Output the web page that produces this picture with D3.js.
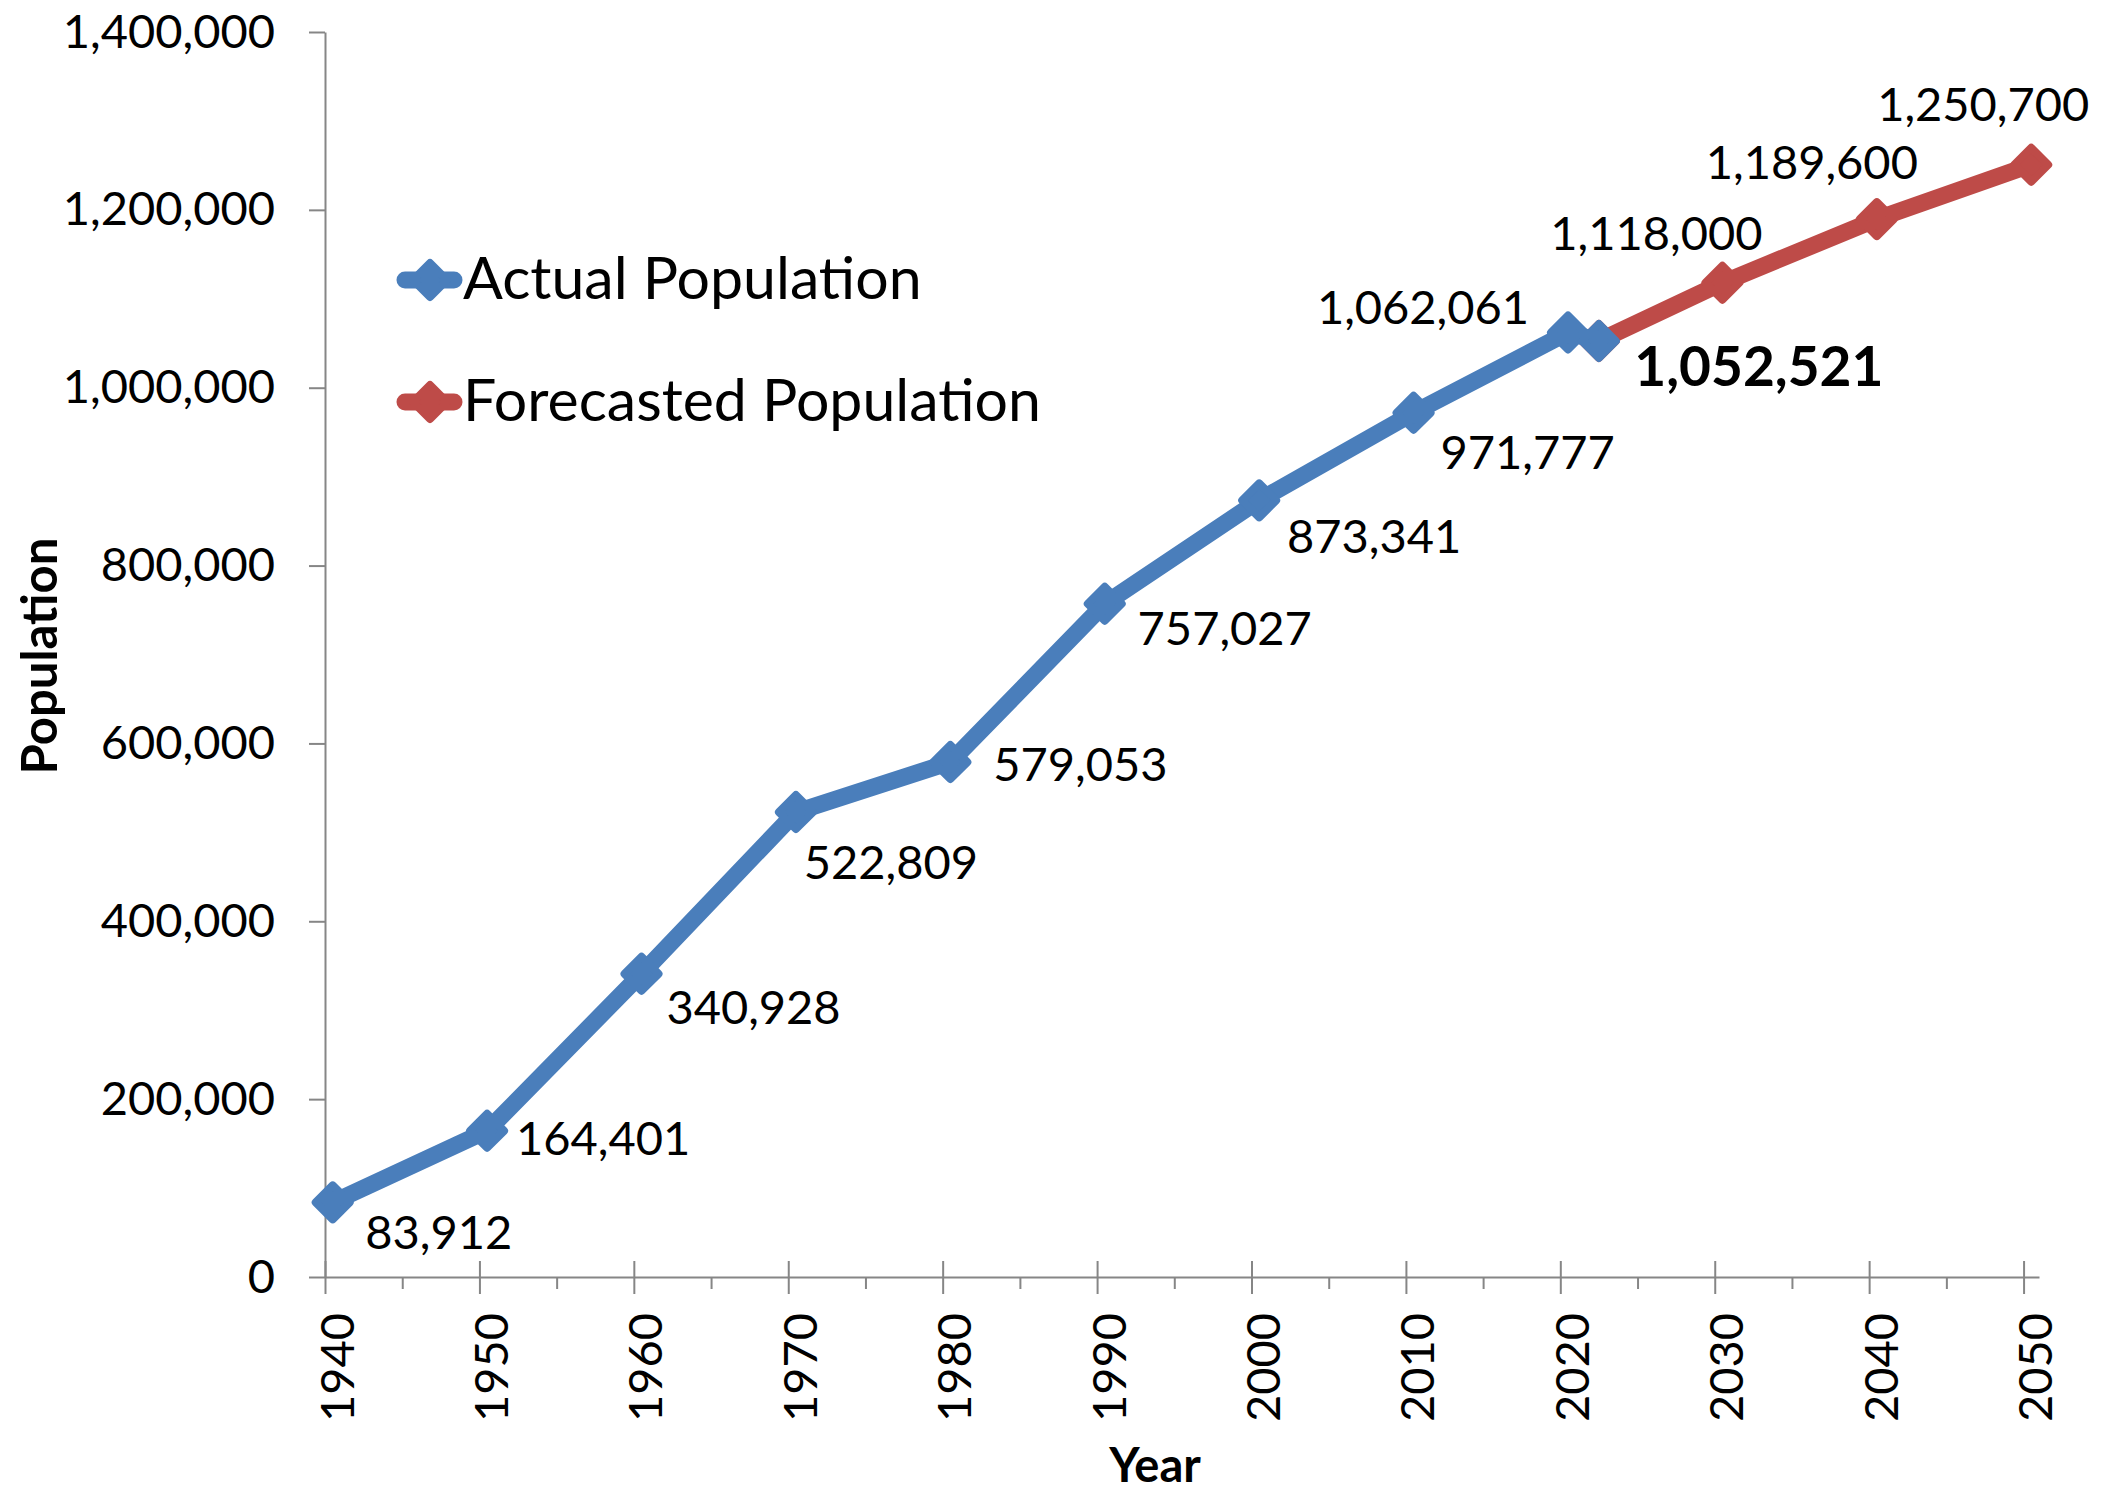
<!DOCTYPE html>
<html>
<head>
<meta charset="utf-8">
<script src="https://cdn.jsdelivr.net/npm/d3@7"></script>
<style>
  html, body { margin: 0; padding: 0; background: #ffffff; }
  svg { display: block; font-family: Lato, "Open Sans", sans-serif; }
</style>
</head>
<body>
<svg id="chart" width="2102" height="1493"></svg>
<script>
// ---- data ----
const actualYears = [1940, 1950, 1960, 1970, 1980, 1990, 2000, 2010, 2020, 2022];
const actualPop   = [83912, 164401, 340928, 522809, 579053, 757027, 873341, 971777, 1062061, 1052521];
const forecastYears = [2022, 2030, 2040, 2050];
const forecastPop   = [1052521, 1118000, 1189600, 1250700];
const yTickValues = [0, 200000, 400000, 600000, 800000, 1000000, 1200000, 1400000];
const xTickYears  = [1940, 1950, 1960, 1970, 1980, 1990, 2000, 2010, 2020, 2030, 2040, 2050];
const seriesNames = ["Actual Population", "Forecasted Population"];

// ---- layout ----
const W = 2102, H = 1493;
const plot = { left: 325, right: 2039, top: 32, bottom: 1277 };
const blue = "#4a7ebb", red = "#be4b48", axisGray = "#868686";

// data label offsets (label centre relative to its point), keyed by year
const labelOffset = {
  1940: [106, 30], 1950: [116, 7], 1960: [112, 33], 1970: [95, 50],
  1980: [130, 2], 1990: [120, 24], 2000: [115, 36], 2010: [114, 39],
  2020: [-145, -26], 2022: [160, 25], 2030: [-66, -50], 2040: [-65, -57], 2050: [-48, -61]
};

const svg = d3.select("#chart");
svg.append("rect").attr("width", W).attr("height", H).attr("fill", "#fff");

// points sit at mid-year on a calendar axis
const midYear = yr => new Date(yr, 6, 1);
const x = d3.scaleTime()
  .domain([new Date(1940, 0, 1), new Date(2051, 0, 1)])
  .range([plot.left, plot.right]);
const y = d3.scaleLinear().domain([0, 1400000]).range([plot.bottom, plot.top]);

const actual = actualYears.map((yr, i) => ({ year: yr, date: midYear(yr), value: actualPop[i] }));
const forecast = forecastYears.map((yr, i) => ({ year: yr, date: midYear(yr), value: forecastPop[i] }));

// ---- axes ----
const yAxis = d3.axisLeft(y)
  .tickValues(yTickValues)
  .tickSize(16)
  .tickSizeOuter(0)
  .tickPadding(34)
  .tickFormat(d3.format(","));
const gy = svg.append("g").attr("transform", `translate(${plot.left},0)`).call(yAxis);
gy.selectAll("text").attr("font-size", 47).attr("font-family", "Lato").attr("fill", "#000");

// minor ticks every five years
const minorDates = xTickYears.slice(0, -1).map(yr => new Date(yr + 5, 0, 1));
const gxMinor = svg.append("g").attr("transform", `translate(0,${plot.bottom})`)
  .call(d3.axisBottom(x).tickValues(minorDates).tickSize(12).tickSizeOuter(0).tickFormat(""));
gxMinor.select(".domain").remove();

const gx = svg.append("g").attr("transform", `translate(0,${plot.bottom})`)
  .call(d3.axisBottom(x)
    .tickValues(xTickYears.map(yr => new Date(yr, 0, 1)))
    .tickSize(16)
    .tickSizeOuter(0)
    .tickFormat(d3.timeFormat("%Y")));
gx.selectAll(".tick line").attr("y1", -16).attr("y2", 17);
gx.selectAll(".tick text")
  .attr("font-size", 47).attr("font-family", "Lato").attr("fill", "#000")
  .attr("transform", "rotate(-90)")
  .attr("text-anchor", "end")
  .attr("x", -36).attr("y", 28).attr("dy", null);

svg.selectAll(".domain, .tick line").attr("stroke", axisGray).attr("stroke-width", 2);

// axis titles
svg.append("text")
  .attr("transform", "translate(57,656) rotate(-90)")
  .attr("text-anchor", "middle")
  .attr("font-size", 49).attr("font-weight", 700).attr("font-family", "Lato")
  .text("Population");
svg.append("text")
  .attr("x", 1155).attr("y", 1482)
  .attr("text-anchor", "middle")
  .attr("font-size", 47).attr("font-weight", 700).attr("font-family", "Lato")
  .text("Year");

// ---- series ----
const line = d3.line().x(d => x(d.date)).y(d => y(d.value));
const diamond = d3.symbol(d3.symbolSquare, 24 * 24)();

function drawSeries(data, color) {
  const g = svg.append("g");
  g.append("path").datum(data)
    .attr("d", line)
    .attr("fill", "none").attr("stroke", color)
    .attr("stroke-width", 17).attr("stroke-linejoin", "round").attr("stroke-linecap", "round");
  g.selectAll("path.mark").data(data).join("path")
    .attr("class", "mark")
    .attr("d", diamond)
    .attr("transform", d => `translate(${x(d.date)},${y(d.value)}) rotate(45)`)
    .attr("fill", color).attr("stroke", color)
    .attr("stroke-width", 8).attr("stroke-linejoin", "round");
}
drawSeries(forecast, red);
drawSeries(actual, blue);

// ---- data labels ----
const labelled = actual.concat(forecast.slice(1));
svg.append("g").selectAll("text").data(labelled).join("text")
  .attr("x", d => x(d.date) + labelOffset[d.year][0])
  .attr("y", d => y(d.value) + labelOffset[d.year][1] + (d.year === 2022 ? 20 : 17))
  .attr("text-anchor", "middle")
  .attr("font-family", "Lato")
  .attr("font-size", d => d.year === 2022 ? 55 : 47)
  .attr("font-weight", d => d.year === 2022 ? 700 : 400)
  .attr("fill", "#000")
  .text(d => d3.format(",")(d.value));

// ---- legend ----
const legend = svg.append("g");
[blue, red].forEach((color, i) => {
  const cy = 280 + i * 122;
  const row = legend.append("g");
  row.append("line")
    .attr("x1", 405).attr("x2", 454).attr("y1", cy).attr("y2", cy)
    .attr("stroke", color).attr("stroke-width", 17).attr("stroke-linecap", "round");
  row.append("path")
    .attr("d", diamond)
    .attr("transform", `translate(430,${cy}) rotate(45)`)
    .attr("fill", color).attr("stroke", color)
    .attr("stroke-width", 8).attr("stroke-linejoin", "round");
  row.append("text")
    .attr("x", 463).attr("y", cy + 19)
    .attr("font-family", "Lato").attr("font-size", 59).attr("fill", "#000")
    .text(seriesNames[i]);
});
</script>
</body>
</html>
